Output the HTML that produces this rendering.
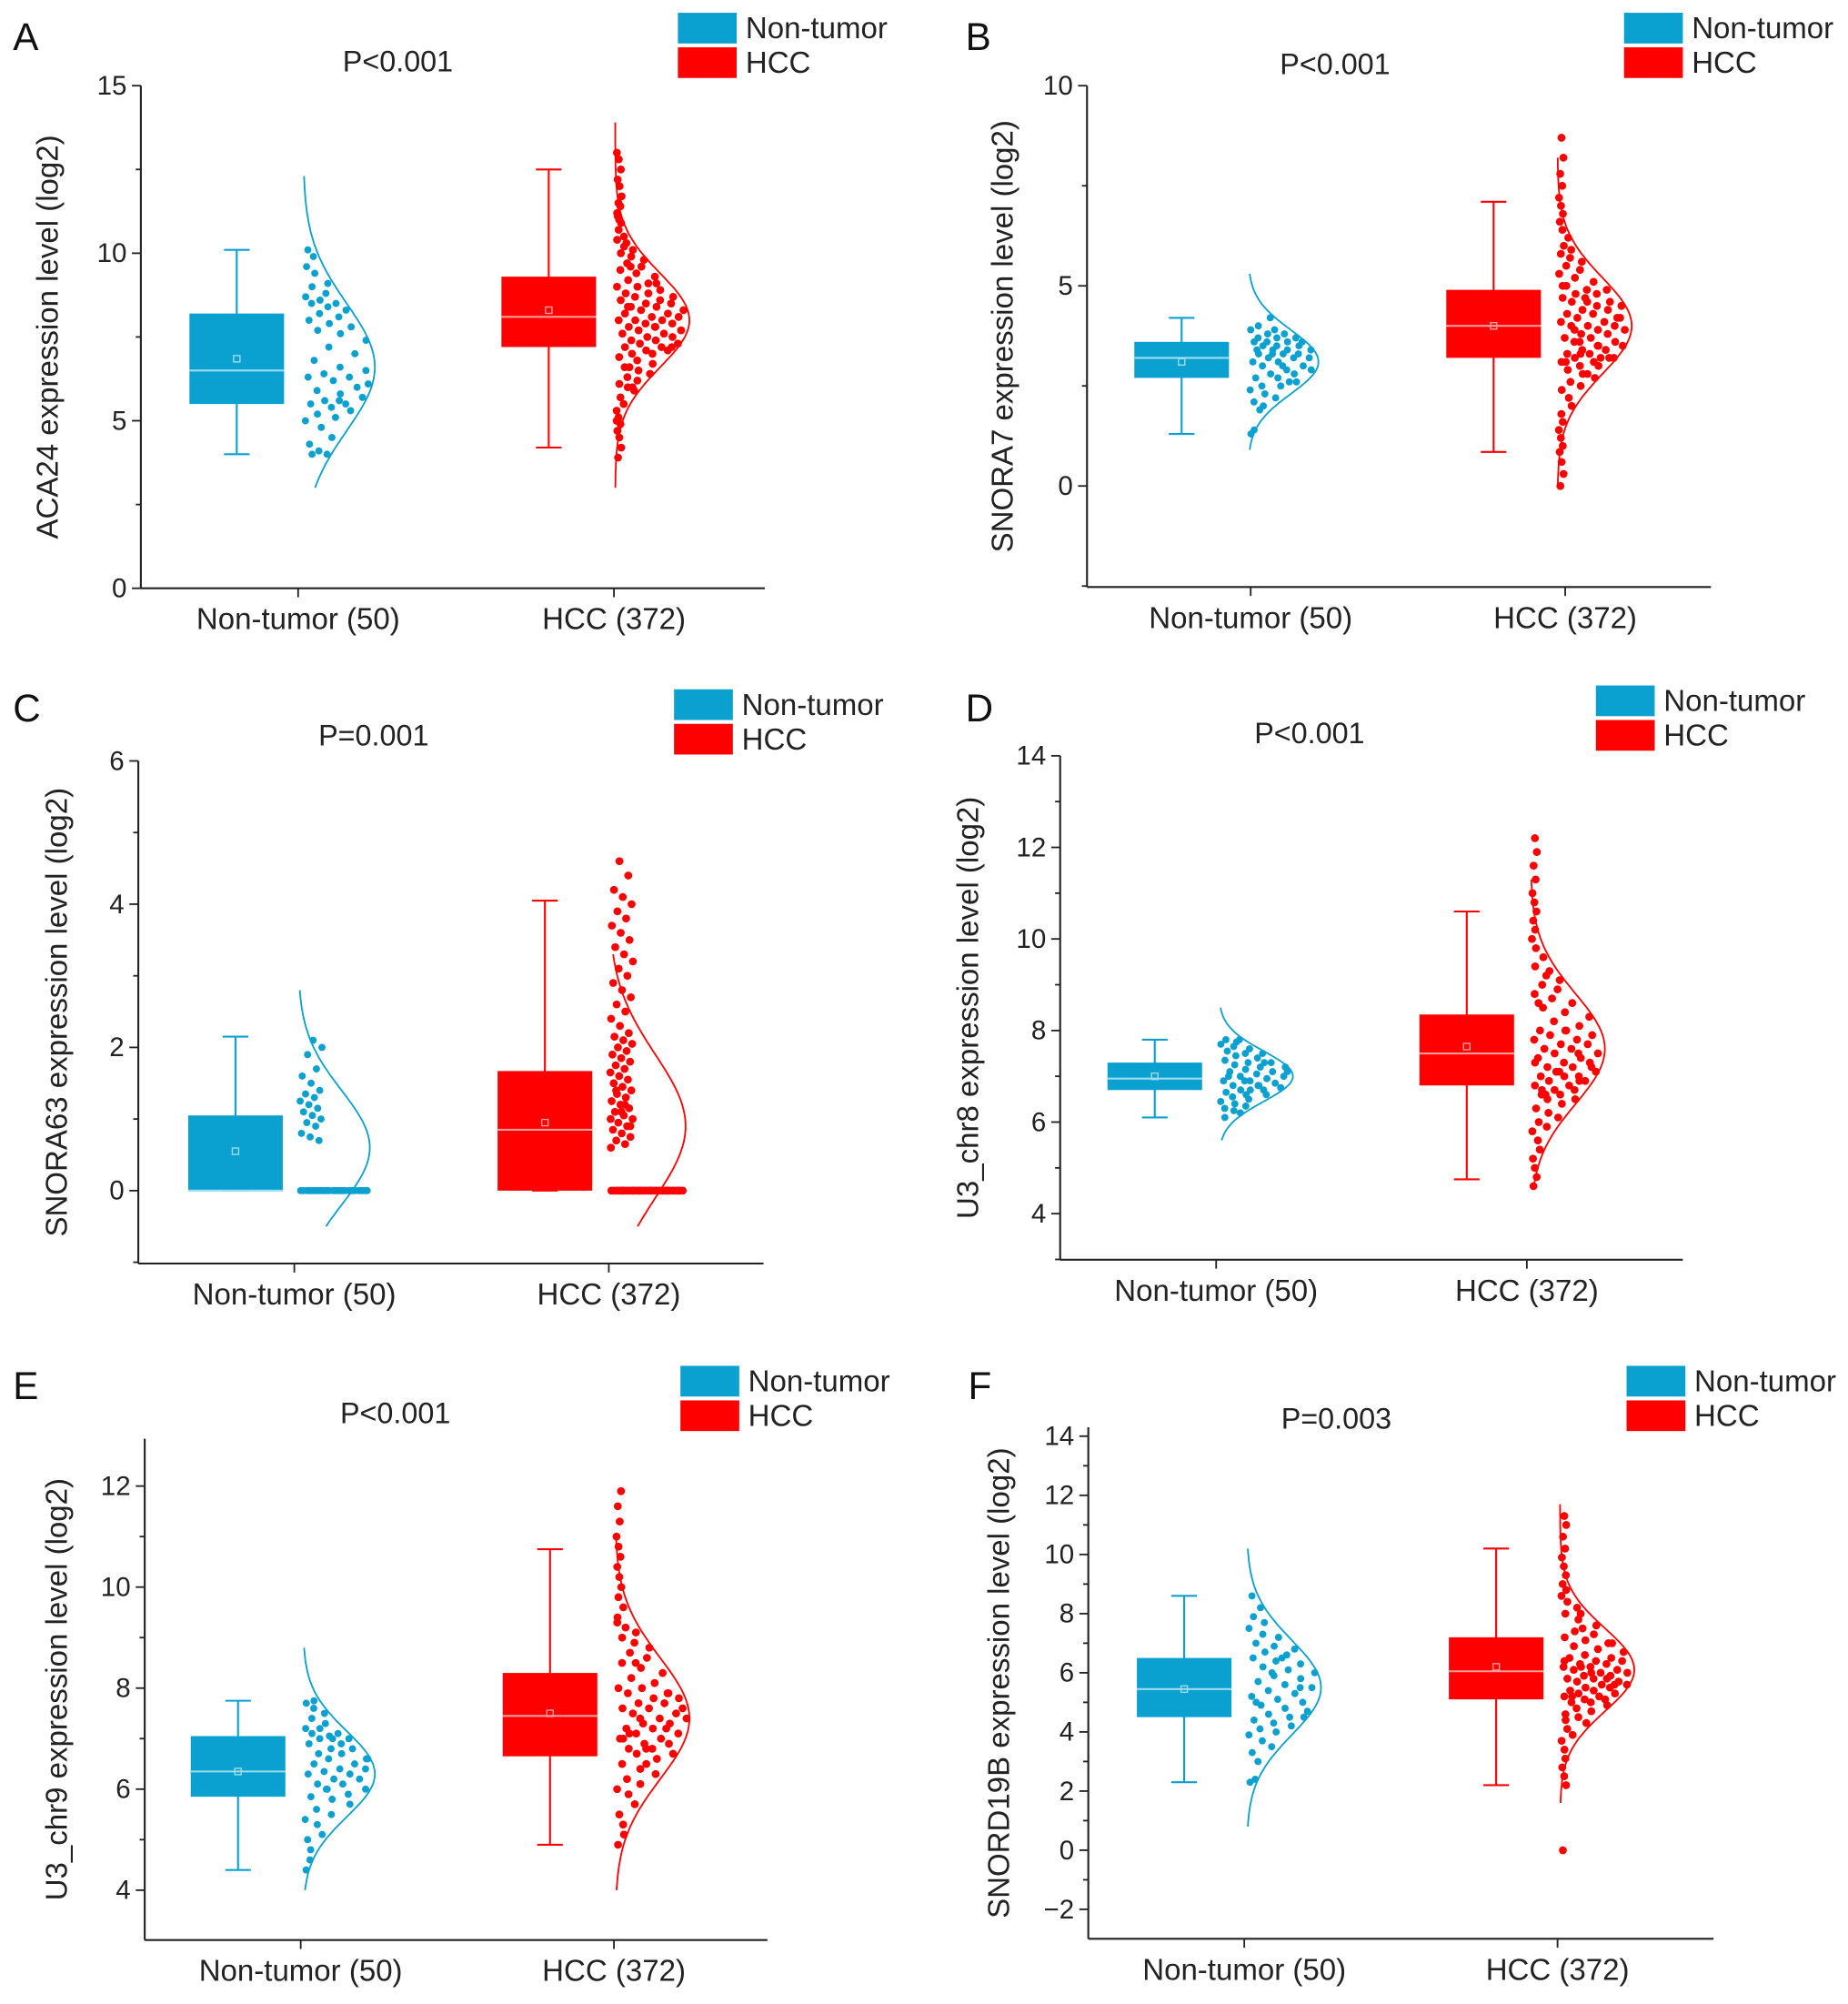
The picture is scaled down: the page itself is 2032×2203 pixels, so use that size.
<!DOCTYPE html>
<html><head><meta charset="utf-8"><style>
html,body{margin:0;padding:0;background:#fff}
svg{display:block;font-family:"Liberation Sans",Arial,sans-serif}
</style></head><body>
<svg id="fig" width="2032" height="2203" viewBox="0 0 1445 1567" xmlns="http://www.w3.org/2000/svg"></svg>
<script>
// ---------------- DATA ----------------
const categories = ["Non-tumor (50)", "HCC (372)"];
const panelLetters = ["A","B","C","D","E","F"];
const yTitles = ["ACA24 expression level (log2)","SNORA7 expression level (log2)","SNORA63 expression level (log2)","U3_chr8 expression level (log2)","U3_chr9 expression level (log2)","SNORD19B expression level (log2)"];
const pTexts = ["P<0.001","P<0.001","P=0.001","P<0.001","P<0.001","P=0.003"];
const ticksA=[0,5,10,15], ticksB=[0,5,10], ticksC=[0,2,4,6], ticksD=[4,6,8,10,12,14], ticksE=[4,6,8,10,12], ticksF=[-2,0,2,4,6,8,10,12,14];
// box stats: [min,q1,median,q3,max,mean]
const boxA_nt=[4.0,5.5,6.5,8.2,10.1,6.85], boxA_hcc=[4.2,7.2,8.1,9.3,12.5,8.3];
const boxB_nt=[1.3,2.7,3.2,3.6,4.2,3.1], boxB_hcc=[0.85,3.2,4.0,4.9,7.1,4.0];
const boxC_nt=[0,0,0,1.05,2.15,0.55], boxC_hcc=[0,0,0.85,1.67,4.05,0.95];
const boxD_nt=[6.1,6.7,6.95,7.3,7.8,7.0], boxD_hcc=[4.75,6.8,7.5,8.35,10.6,7.65];
const boxE_nt=[4.4,5.85,6.35,7.05,7.75,6.35], boxE_hcc=[4.9,6.65,7.45,8.3,10.75,7.5];
const boxF_nt=[2.3,4.5,5.45,6.5,8.6,5.45], boxF_hcc=[2.2,5.1,6.05,7.2,10.2,6.2];
// density curve: [mean, sd, low, high]
const curveA_nt=[6.6,1.9,3.0,12.3], curveA_hcc=[8.0,1.4,3.0,13.9];
const curveB_nt=[3.1,0.8,0.9,5.3], curveB_hcc=[4.0,1.2,0.0,8.2];
const curveC_nt=[0.6,0.8,-0.5,2.8], curveC_hcc=[0.9,1.0,-0.5,3.3];
const curveD_nt=[7.0,0.55,5.6,8.5], curveD_hcc=[7.6,1.2,4.6,11.3];
const curveE_nt=[6.3,0.85,4.0,8.8], curveE_hcc=[7.4,1.2,4.0,11.0];
const curveF_nt=[5.5,1.6,0.8,10.2], curveF_hcc=[6.1,1.4,1.6,11.7];
// sample values
const valsA_nt=[4.0,4.0,4.1,4.3,4.5,4.8,5.0,5.1,5.2,5.3,5.4,5.5,5.5,5.6,5.7,5.8,5.9,6.0,6.2,6.3,6.3,6.4,6.5,6.6,6.8,7.0,7.2,7.4,7.6,7.7,7.8,7.9,8.0,8.1,8.2,8.3,8.4,8.5,8.5,8.6,8.7,8.8,9.0,9.1,9.4,9.6,9.9,10.1,6.1,5.6];
const valsA_hcc=[3.9,4.2,4.5,4.7,4.9,5.1,5.3,5.5,5.7,5.9,6.0,6.1,6.2,6.3,6.4,6.5,6.6,6.7,6.8,6.9,7.0,7.0,7.1,7.1,7.2,7.2,7.3,7.3,7.4,7.4,7.5,7.5,7.6,7.6,7.7,7.7,7.8,7.8,7.9,7.9,8.0,8.0,8.0,8.1,8.1,8.2,8.2,8.3,8.3,8.4,8.4,8.5,8.5,8.6,8.6,8.7,8.7,8.8,8.8,8.9,9.0,9.0,9.1,9.2,9.3,9.4,9.5,9.6,9.7,9.8,9.9,10.0,10.1,10.2,10.4,10.5,10.7,10.9,11.0,11.2,11.4,11.5,11.7,12.0,12.2,12.5,12.8,13.0,6.0,6.6,7.2,7.8,8.4,9.1,9.6,5.0,10.3,11.1];
const valsB_nt=[1.3,1.4,1.9,2.1,2.2,2.3,2.4,2.5,2.5,2.6,2.7,2.7,2.8,2.8,2.9,2.9,3.0,3.0,3.1,3.1,3.2,3.2,3.2,3.3,3.3,3.3,3.4,3.4,3.4,3.5,3.5,3.5,3.6,3.6,3.6,3.7,3.7,3.7,3.8,3.8,3.9,3.9,4.0,4.2,3.0,3.4,2.6,3.3,3.6,2.0];
const valsB_hcc=[0.0,0.3,0.6,0.85,1.0,1.2,1.4,1.6,1.8,2.0,2.2,2.4,2.5,2.6,2.7,2.8,2.9,3.0,3.0,3.1,3.1,3.2,3.2,3.3,3.3,3.4,3.4,3.5,3.5,3.6,3.6,3.7,3.7,3.8,3.8,3.9,3.9,4.0,4.0,4.0,4.1,4.1,4.2,4.2,4.3,4.3,4.4,4.4,4.5,4.5,4.6,4.6,4.7,4.7,4.8,4.8,4.9,4.9,5.0,5.1,5.2,5.3,5.4,5.5,5.6,5.7,5.8,5.9,6.0,6.2,6.4,6.6,6.8,7.0,7.2,7.5,7.8,8.2,8.7,3.1,3.2,3.3,3.2,3.5,3.9,4.2,4.6,5.0,2.8,3.6];
const valsC_nt=[0,0,0,0,0,0,0,0,0,0,0,0,0,0,0,0,0,0,0,0,0,0,0,0,0,0,0,0,0,0,0.7,0.75,0.8,0.9,0.95,1.0,1.05,1.1,1.15,1.2,1.25,1.3,1.35,1.4,1.5,1.6,1.7,1.9,2.0,2.1];
const valsC_hcc=[0,0,0,0,0,0,0,0,0,0,0,0,0,0,0,0,0,0,0,0,0,0,0,0,0,0,0,0,0,0,0,0,0,0,0,0,0,0,0,0,0.6,0.65,0.7,0.75,0.8,0.85,0.9,0.95,1.0,1.05,1.1,1.15,1.2,1.25,1.3,1.35,1.4,1.45,1.5,1.55,1.6,1.65,1.7,1.75,1.8,1.85,1.9,1.95,2.0,2.05,2.1,2.15,2.2,2.3,2.4,2.5,2.6,2.7,2.8,2.9,3.0,3.1,3.2,3.3,3.4,3.5,3.6,3.7,3.8,3.9,4.0,4.1,4.2,4.4,4.6,1.0,1.2,1.4,0.9,1.1];
const valsD_nt=[6.1,6.2,6.25,6.3,6.35,6.4,6.45,6.5,6.55,6.6,6.6,6.65,6.7,6.7,6.75,6.8,6.8,6.85,6.9,6.9,6.95,7.0,7.0,7.05,7.1,7.1,7.15,7.2,7.2,7.25,7.3,7.3,7.35,7.4,7.45,7.5,7.5,7.55,7.6,7.65,7.7,7.75,7.8,7.8,6.7,7.0,7.3,6.9,7.1,6.8];
const valsD_hcc=[4.6,4.8,5.0,5.2,5.4,5.6,5.8,5.9,6.0,6.1,6.2,6.3,6.4,6.5,6.5,6.6,6.6,6.7,6.7,6.8,6.8,6.9,6.9,7.0,7.0,7.0,7.1,7.1,7.2,7.2,7.3,7.3,7.4,7.4,7.5,7.5,7.6,7.6,7.7,7.7,7.8,7.8,7.9,7.9,8.0,8.0,8.1,8.2,8.3,8.4,8.5,8.6,8.7,8.8,8.9,9.0,9.1,9.2,9.4,9.6,9.8,10.0,10.2,10.4,10.6,10.8,11.0,11.3,11.6,11.9,12.2,6.7,6.9,7.1,7.3,7.5,6.6,7.2,8.0,8.6,9.3];
const valsE_nt=[4.4,4.6,4.8,5.0,5.1,5.3,5.4,5.5,5.6,5.7,5.8,5.85,5.9,6.0,6.0,6.1,6.1,6.2,6.2,6.3,6.3,6.35,6.4,6.4,6.5,6.5,6.6,6.6,6.7,6.7,6.8,6.8,6.9,6.9,7.0,7.0,7.05,7.1,7.1,7.2,7.2,7.3,7.4,7.5,7.6,7.7,7.75,6.0,6.6,7.0];
const valsE_hcc=[4.9,5.1,5.3,5.5,5.7,5.9,6.0,6.1,6.2,6.3,6.4,6.5,6.6,6.7,6.7,6.8,6.8,6.9,6.9,7.0,7.0,7.1,7.1,7.2,7.2,7.3,7.3,7.4,7.4,7.5,7.5,7.6,7.6,7.7,7.7,7.8,7.8,7.9,7.9,8.0,8.0,8.1,8.2,8.3,8.4,8.5,8.6,8.7,8.8,8.9,9.0,9.1,9.2,9.4,9.6,9.8,10.0,10.2,10.4,10.6,10.8,11.0,11.3,11.6,11.9,6.8,7.0,7.2,7.4,7.6,6.5,7.1,7.9,8.5,9.3];
const valsF_nt=[2.3,2.4,3.0,3.3,3.5,3.7,3.9,4.0,4.1,4.2,4.3,4.4,4.5,4.6,4.7,4.8,4.9,5.0,5.1,5.2,5.3,5.4,5.5,5.6,5.7,5.8,5.9,6.0,6.1,6.2,6.3,6.4,6.5,6.6,6.7,6.8,6.9,7.0,7.2,7.3,7.5,7.7,7.9,8.2,8.6,5.0,5.5,6.0,4.5,6.5];
const valsF_hcc=[0.0,2.2,2.5,2.8,3.1,3.4,3.7,3.9,4.1,4.3,4.5,4.6,4.7,4.8,4.9,5.0,5.0,5.1,5.1,5.2,5.2,5.3,5.3,5.4,5.4,5.5,5.5,5.6,5.6,5.7,5.7,5.8,5.8,5.9,5.9,6.0,6.0,6.1,6.1,6.2,6.2,6.3,6.3,6.4,6.4,6.5,6.5,6.6,6.7,6.8,6.9,7.0,7.1,7.2,7.3,7.4,7.6,7.8,8.0,8.2,8.4,8.6,8.8,9.0,9.3,9.6,9.9,10.2,10.6,11.0,11.3,5.2,5.6,6.0,6.4,5.8,6.2,7.0,7.5,4.4,8.0];

// ---------------- LAYOUT ----------------
const BLUE="#0aa0cf", RED="#ff0000", LBLUE="#9edcf0", LRED="#ff9c9c";
const panels=[
 {ax:110,xEnd:598,yLo:0,yHi:15,pLo:460,pHi:67,bot:460,top:67,minorStep:2.5,ticks:ticksA,cat:[233,480],box:[185,429],cb:[237,481],amp:[56,58],title:[311,48],leg:[530,10],letter:[10,30],yt:45,
  bx:[boxA_nt,boxA_hcc],cv:[curveA_nt,curveA_hcc],vals:[valsA_nt,valsA_hcc]},
 {ax:850,xEnd:1338,yLo:0,yHi:10,pLo:380,pHi:67,bot:459,top:67,minorStep:2.5,ticks:ticksB,cat:[978,1224],box:[924,1168],cb:[976,1218],amp:[55,58],title:[1044,50],leg:[1270,10],letter:[755,30],yt:792,
  bx:[boxB_nt,boxB_hcc],cv:[curveB_nt,curveB_hcc],vals:[valsB_nt,valsB_hcc]},
 {ax:108,xEnd:597,yLo:0,yHi:6,pLo:931,pHi:595,bot:988,top:595,minorStep:1,ticks:ticksC,cat:[230,476],box:[184,426],cb:[233,476],amp:[56,60],title:[292,575],leg:[527,539],letter:[10,555],yt:52,special:true,
  bx:[boxC_nt,boxC_hcc],cv:[curveC_nt,curveC_hcc],vals:[valsC_nt,valsC_hcc]},
 {ax:829,xEnd:1316,yLo:4,yHi:14,pLo:949,pHi:591,bot:985,top:591,minorStep:1,ticks:ticksD,cat:[951,1194],box:[903,1147],cb:[953,1197],amp:[58,58],title:[1024,573],leg:[1248,536],letter:[755,555],yt:765,
  bx:[boxD_nt,boxD_hcc],cv:[curveD_nt,curveD_hcc],vals:[valsD_nt,valsD_hcc]},
 {ax:113,xEnd:600,yLo:4,yHi:12,pLo:1478,pHi:1162,bot:1517,top:1125,minorStep:1,ticks:ticksE,cat:[235,480],box:[186,430],cb:[237,481],amp:[56,58],title:[309,1105],leg:[532,1068],letter:[10,1085],yt:52,
  bx:[boxE_nt,boxE_hcc],cv:[curveE_nt,curveE_hcc],vals:[valsE_nt,valsE_hcc]},
 {ax:851,xEnd:1340,yLo:-2,yHi:14,pLo:1493,pHi:1123,bot:1516,top:1116,minorStep:1,ticks:ticksF,cat:[973,1218],box:[926,1170],cb:[975,1220],amp:[58,58],title:[1045,1109],leg:[1272,1068],letter:[757,1085],yt:789,
  bx:[boxF_nt,boxF_hcc],cv:[curveF_nt,curveF_hcc],vals:[valsF_nt,valsF_hcc]}
];
const NS="http://www.w3.org/2000/svg";
const svg=document.getElementById('fig');
function mk(tag,attrs,parent,text){const e=document.createElementNS(NS,tag);for(const k in attrs)e.setAttribute(k,attrs[k]);if(text!=null)e.textContent=text;parent.appendChild(e);return e;}

panels.forEach((p,pi)=>{
  const g=mk('g',{},svg);
  
  
  const Y=v=>p.pLo+(v-p.yLo)*(p.pHi-p.pLo)/(p.yHi-p.yLo);
  const vAt=py=>p.yLo+(py-p.pLo)*(p.yHi-p.yLo)/(p.pHi-p.pLo);
  let t=mk('text',{x:p.letter[0],y:p.letter[1]+9,'font-size':30,fill:'#111'},g,panelLetters[pi]);
  
  t=mk('text',{x:p.title[0],y:p.title[1]+8,'font-size':23,'text-anchor':'middle',fill:'#222'},g,pTexts[pi]);
  
  [["Non-tumor",BLUE],["HCC",RED]].forEach((L,li)=>{
    const r=mk('rect',{x:p.leg[0],y:p.leg[1]+li*27,width:46,height:24,fill:L[1]},g);
    
    const lt=mk('text',{x:p.leg[0]+53,y:p.leg[1]+li*27+20,'font-size':23.5,fill:'#222'},g,L[0]);
    
  });
  let a=mk('line',{x1:p.ax,y1:p.top,x2:p.ax,y2:p.bot,stroke:'#222','stroke-width':1.5},g);
  
  a=mk('line',{x1:p.ax,y1:p.bot,x2:p.xEnd,y2:p.bot,stroke:'#222','stroke-width':1.5},g);
  
  const vTop=vAt(p.top), vBot=vAt(p.bot);
  for(let v=Math.ceil(vBot/p.minorStep)*p.minorStep; v<=vTop+1e-9; v+=p.minorStep){
    const py=Y(v);
    const major=p.ticks.some(tk=>Math.abs(tk-v)<1e-6);
    const m=mk('line',{x1:p.ax-(major?7:4),y1:py,x2:p.ax,y2:py,stroke:'#222','stroke-width':1.3},g);
    
  }
  p.ticks.forEach(tk=>{
    const tl=mk('text',{x:p.ax-11,y:Y(tk)+7,'font-size':21,'text-anchor':'end',fill:'#222'},g,tk<0?'\u22122':String(tk));
    
  });
  const ym=(p.top+p.bot)/2;
  t=mk('text',{x:p.yt,y:ym,'font-size':23.5,'text-anchor':'middle',fill:'#222',transform:`rotate(-90 ${p.yt} ${ym})`},g,yTitles[pi]);
  
  categories.forEach((c,ci)=>{
    const tk=mk('line',{x1:p.cat[ci],y1:p.bot,x2:p.cat[ci],y2:p.bot+7,stroke:'#222','stroke-width':1.3},g);
    
    const cl=mk('text',{x:p.cat[ci],y:p.bot+32,'font-size':23.5,'text-anchor':'middle',fill:'#222'},g,c);
    
  });
  [0,1].forEach(gi=>{
    const col=gi?RED:BLUE, lc=gi?LRED:LBLUE, nm=gi?'hcc':'non-tumor';
    const b=p.bx[gi], cx=p.box[gi], hw=37;
    const gg=mk('g',{},g);
    
    let e=mk('line',{x1:cx,y1:Y(b[0]),x2:cx,y2:Y(b[4]),stroke:col,'stroke-width':1.5},gg);
    
    [b[0],b[4]].forEach(v=>{const c=mk('line',{x1:cx-10,y1:Y(v),x2:cx+10,y2:Y(v),stroke:col,'stroke-width':1.5},gg);
      });
    e=mk('rect',{x:cx-hw,y:Y(b[3]),width:2*hw,height:Math.max(1,Y(b[1])-Y(b[3])),fill:col},gg);
    
    e=mk('line',{x1:cx-hw,y1:Y(b[2]),x2:cx+hw,y2:Y(b[2]),stroke:lc,'stroke-width':1.5},gg);
    
    e=mk('rect',{x:cx-2.5,y:Y(b[5])-2.5,width:5,height:5,fill:'none',stroke:lc,'stroke-width':1},gg);
    
    const cv=p.cv[gi], base=p.cb[gi], amp=p.amp[gi];
    const ratio=v=>Math.exp(-0.5*Math.pow((v-cv[0])/cv[1],2));
    let d='';
    for(let k=0;k<=120;k++){const v=cv[2]+(cv[3]-cv[2])*k/120;d+=(k?'L':'M')+(base+amp*ratio(v)).toFixed(1)+' '+Y(v).toFixed(1);}
    e=mk('path',{d:d,fill:'none',stroke:col,'stroke-width':1.3},gg);
    
    const rr=gi?3.1:2.8;
    p.vals[gi].forEach((v,i)=>{
      const u=((i*0.6180339+0.31)%1);
      let w;
      if(p.special) w=(v===0)?amp*0.95:18;
      else w=Math.max(4,amp*ratio(v)-3);
      const dx=base+1+u*w;
      const dot=mk('circle',{cx:dx.toFixed(1),cy:Y(v).toFixed(1),r:rr,fill:col},gg);
      
      
    });
  });
});
</script>
</body></html>
